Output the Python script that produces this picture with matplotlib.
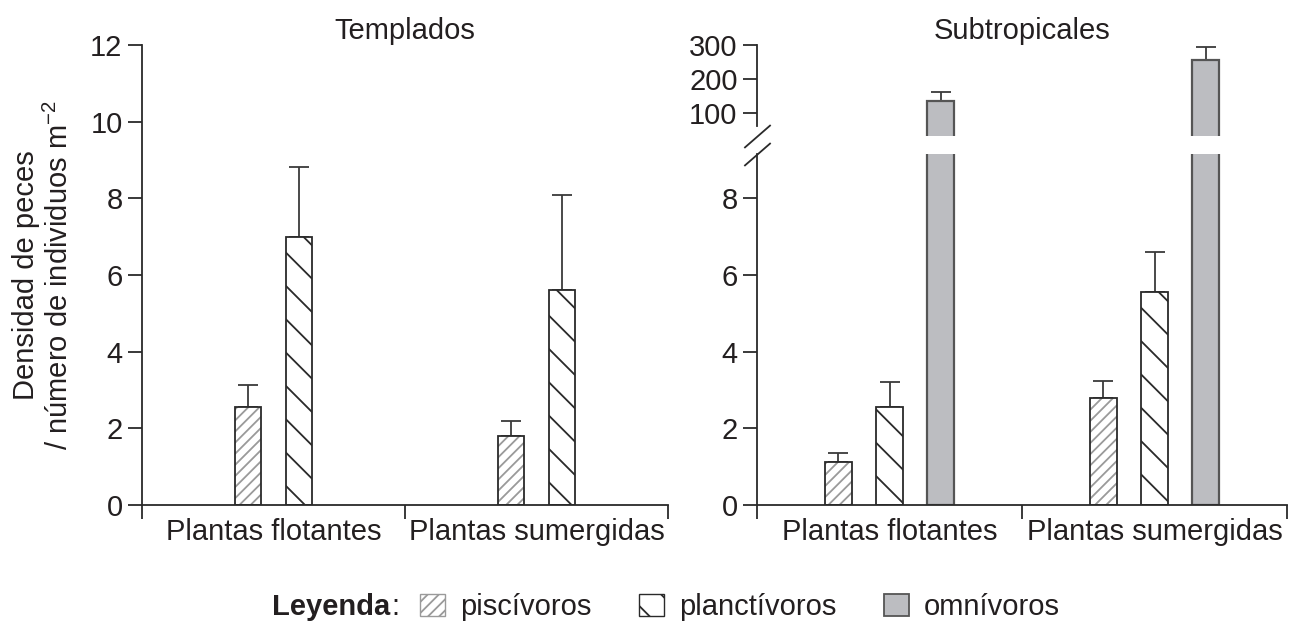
import matplotlib.pyplot as plt
from matplotlib.patches import Patch

plt.rcParams['font.family'] = ['Liberation Sans', 'DejaVu Sans']
plt.rcParams['mathtext.fontset'] = 'custom'
plt.rcParams['mathtext.rm'] = 'Liberation Sans'
plt.rcParams['mathtext.it'] = 'Liberation Sans:italic'
plt.rcParams['hatch.linewidth'] = 1.3

categories = ["Plantas flotantes", "Plantas sumergidas"]
groups = ["piscívoros", "planctívoros", "omnívoros"]

# Templados (no omnívoros)
temp_pisc = [2.55, 1.80]
temp_pisc_err = [0.57, 0.38]
temp_planc = [7.00, 5.60]
temp_planc_err = [1.83, 2.50]

# Subtropicales
sub_pisc = [1.12, 2.78]
sub_pisc_err = [0.24, 0.45]
sub_planc = [2.57, 5.57]
sub_planc_err = [0.63, 1.03]
sub_omni = [135, 257]
sub_omni_err = [27, 38]

left_ticks = [0, 2, 4, 6, 8, 10, 12]
right_low_ticks = [0, 2, 4, 6, 8]
right_high_ticks = [100, 200, 300]

W, H = 1290, 623
fig = plt.figure(figsize=(W / 100, H / 100), dpi=100)


def box(x0, y0, x1, y1):
    return [x0 / W, 1 - y1 / H, (x1 - x0) / W, (y1 - y0) / H]


ax1 = fig.add_axes(box(142, 45, 668, 505))
ax2 = fig.add_axes(box(757, 154, 1287, 505))
ax3 = fig.add_axes(box(757, 45, 1287, 136))

bw = 0.1
step = 0.193
fs = 21
txt_c = '#231f20'
line_c = '#2a2a2a'
err_kw = dict(fmt='none', ecolor='#3a3a3a', elinewidth=1.3, capsize=7, capthick=1.3)


def draw_bar(ax, x, h, err, kind):
    if kind == 'pisc':
        ax.bar(x, h, bw, color='white', edgecolor='#9a9a9a', hatch='///', linewidth=0, zorder=2)
        ax.bar(x, h, bw, fill=False, edgecolor=line_c, linewidth=1.3, zorder=3)
    elif kind == 'planc':
        ax.bar(x, h, bw, color='white', edgecolor=line_c, hatch='\\', linewidth=1.3, zorder=2)
    else:
        ax.bar(x, h, bw, color='#bcbdc1', edgecolor='#555555', linewidth=1.6, zorder=2)
    ax.errorbar(x, h, yerr=[[0], [err]], zorder=1, **err_kw)


def style(ax, bottom=True):
    for s in ['top', 'right']:
        ax.spines[s].set_visible(False)
    ax.spines['left'].set_color(line_c)
    ax.spines['left'].set_linewidth(1.3)
    ax.tick_params(axis='y', direction='out', length=10, width=1.3, color=line_c,
                   labelsize=fs, pad=4, labelcolor=txt_c)
    ax.set_xlim(0, 2)
    if bottom:
        ax.spines['bottom'].set_color(line_c)
        ax.spines['bottom'].set_linewidth(1.3)
        ax.set_xticks([0.5, 1.5])
        ax.set_xticklabels(categories, fontsize=fs, color=txt_c)
        ax.set_xticks([0, 1, 2], minor=True)
        ax.tick_params(axis='x', which='major', length=0, pad=9)
        ax.tick_params(axis='x', which='minor', direction='out', length=10, width=1.3, color=line_c)
    else:
        ax.spines['bottom'].set_visible(False)
        ax.set_xticks([])


# Templados
for i in range(2):
    c = i + 0.5
    draw_bar(ax1, c - step / 2, temp_pisc[i], temp_pisc_err[i], 'pisc')
    draw_bar(ax1, c + step / 2, temp_planc[i], temp_planc_err[i], 'planc')
style(ax1)
ax1.set_ylim(0, 12)
ax1.set_yticks(left_ticks)
ax1.set_title("Templados", fontsize=fs, color=txt_c, pad=4)
ax1.set_ylabel("Densidad de peces\n/ número de individuos m$^{\u22122}$", fontsize=fs,
               color=txt_c, labelpad=12, linespacing=1.2)

# Subtropicales, broken axis
for ax in (ax2, ax3):
    for i in range(2):
        c = i + 0.5
        draw_bar(ax, c - step, sub_pisc[i], sub_pisc_err[i], 'pisc')
        draw_bar(ax, c, sub_planc[i], sub_planc_err[i], 'planc')
        draw_bar(ax, c + step, sub_omni[i], sub_omni_err[i], 'omni')
style(ax2)
ax2.set_ylim(0, 9.16)
ax2.set_yticks(right_low_ticks)
style(ax3, bottom=False)
ax3.set_ylim(32, 300)
ax3.set_yticks(right_high_ticks)
ax3.set_title("Subtropicales", fontsize=fs, color=txt_c, pad=4)
ax3.spines['left'].set_bounds(60, 300)

# break marks
brk = dict(marker=[(-1, -0.87), (1, 0.87)], markersize=19, linestyle='none',
           color=line_c, mew=1.3, clip_on=False)
ax3.plot([0], [0], transform=ax3.transAxes, **brk)
ax2.plot([0], [1], transform=ax2.transAxes, **brk)

# legend
ly = 1 - 607 / H
ley = fig.text(272 / W, ly, "Leyenda", fontsize=fs, fontweight='bold',
               color=txt_c, va='center', ha='left')
fig.add_artist(plt.Annotation(":", xy=(1, 0.5), xycoords=ley, xytext=(1, 0),
                              textcoords='offset points', fontsize=fs, color=txt_c,
                              va='center', ha='left'))
handles = [
    Patch(facecolor='white', edgecolor='#9a9a9a', hatch='///', linewidth=1.0),
    Patch(facecolor='white', edgecolor=line_c, hatch='\\', linewidth=1.0),
    Patch(facecolor='#bcbdc1', edgecolor='#555555', linewidth=1.3),
]
fig.legend(handles, groups, loc='center left', bbox_to_anchor=(420 / W, ly),
           ncol=3, frameon=False, fontsize=fs, handlelength=0.86, handleheight=0.8,
           handletextpad=0.5, columnspacing=1.65, borderpad=0, borderaxespad=0,
           labelcolor=txt_c)

fig.savefig("out.png", dpi=100)
